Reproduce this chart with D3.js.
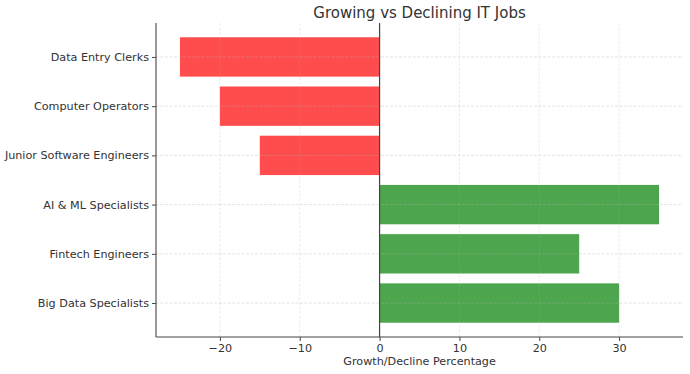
<!DOCTYPE html>
<html>
<head>
<meta charset="utf-8">
<script src="https://cdn.jsdelivr.net/npm/d3@7"></script>
<style>
  body { margin: 0; background: #fff; }
  svg { font-family: "DejaVu Sans", sans-serif; }
</style>
</head>
<body>
<div id="chart"></div>
<script>
// Jobs from bottom to top, as drawn
const jobs = ["Big Data Specialists", "Fintech Engineers", "AI & ML Specialists",
              "Junior Software Engineers", "Computer Operators", "Data Entry Clerks"];
const changes = [30, 25, 35, -15, -20, -25];
const xTicks = [-20, -10, 0, 10, 20, 30];

const svgWidth = 690, svgHeight = 374;
const margin = { top: 23, right: 7, bottom: 37, left: 156 };
const width = svgWidth - margin.left - margin.right;
const height = svgHeight - margin.top - margin.bottom;

const svg = d3.select("#chart").append("svg")
    .attr("width", svgWidth)
    .attr("height", svgHeight);

const g = svg.append("g")
    .attr("transform", `translate(${margin.left},${margin.top})`);

// Scales (matplotlib-like 5% padding)
const x = d3.scaleLinear().domain([-28, 38]).range([0, width]);
const y = d3.scaleLinear().domain([-0.69, 5.69]).range([height, 0]);
const barH = y(0) - y(0.8);

const data = jobs.map((name, i) => ({ name, value: changes[i], pos: i }));

// Bars
g.selectAll(".bar")
    .data(data)
    .enter().append("rect")
    .attr("class", "bar")
    .attr("x", d => x(Math.min(0, d.value)))
    .attr("width", d => Math.abs(x(d.value) - x(0)))
    .attr("y", d => y(d.pos) - barH / 2)
    .attr("height", barH)
    .attr("fill", d => d.value < 0 ? "#ff4d4d" : "#4da64d");

// Grid (drawn on top of bars)
g.selectAll(".vgrid")
    .data(xTicks)
    .enter().append("line")
    .attr("x1", d => x(d)).attr("x2", d => x(d))
    .attr("y1", 0).attr("y2", height)
    .attr("stroke", "#b0b0b0")
    .attr("stroke-opacity", 0.3)
    .attr("stroke-width", 0.8)
    .attr("stroke-dasharray", "3,1.5");

g.selectAll(".hgrid")
    .data(data)
    .enter().append("line")
    .attr("x1", 0).attr("x2", width)
    .attr("y1", d => y(d.pos)).attr("y2", d => y(d.pos))
    .attr("stroke", "#b0b0b0")
    .attr("stroke-opacity", 0.45)
    .attr("stroke-width", 0.8)
    .attr("stroke-dasharray", "3,1.5");

// Zero line
g.append("line")
    .attr("x1", x(0)).attr("x2", x(0))
    .attr("y1", 0).attr("y2", height)
    .attr("stroke", "#444")
    .attr("stroke-width", 1.2);

// Axes
const xAxis = g.append("g")
    .attr("transform", `translate(0,${height})`)
    .call(d3.axisBottom(x).tickValues(xTicks).tickSize(4).tickPadding(3)
        .tickFormat(d => d < 0 ? "\u2212" + Math.abs(d) : d));

const yAxis = g.append("g")
    .call(d3.axisLeft(y).tickValues(data.map(d => d.pos)).tickSize(4).tickPadding(3)
        .tickFormat(i => jobs[i]));

[xAxis, yAxis].forEach(a => {
    a.select(".domain").attr("stroke", "#444").attr("stroke-width", 1.1);
    a.selectAll(".tick line").attr("stroke", "#444");
    a.selectAll(".tick text").attr("fill", "#333").style("font-size", "11.2px")
        .style("font-family", "DejaVu Sans, sans-serif");
});
xAxis.select(".domain").attr("d", `M0,0H${width}`);
yAxis.select(".domain").attr("d", `M0,0V${height}`);

// Title and axis label
svg.append("text")
    .attr("x", margin.left + width / 2)
    .attr("y", 18)
    .attr("text-anchor", "middle")
    .attr("fill", "#333")
    .style("font-size", "15px")
    .text("Growing vs Declining IT Jobs");

svg.append("text")
    .attr("x", margin.left + x(0) + 40)
    .attr("y", 365)
    .attr("text-anchor", "middle")
    .attr("fill", "#333")
    .style("font-size", "11.2px")
    .text("Growth/Decline Percentage");
</script>
</body>
</html>
